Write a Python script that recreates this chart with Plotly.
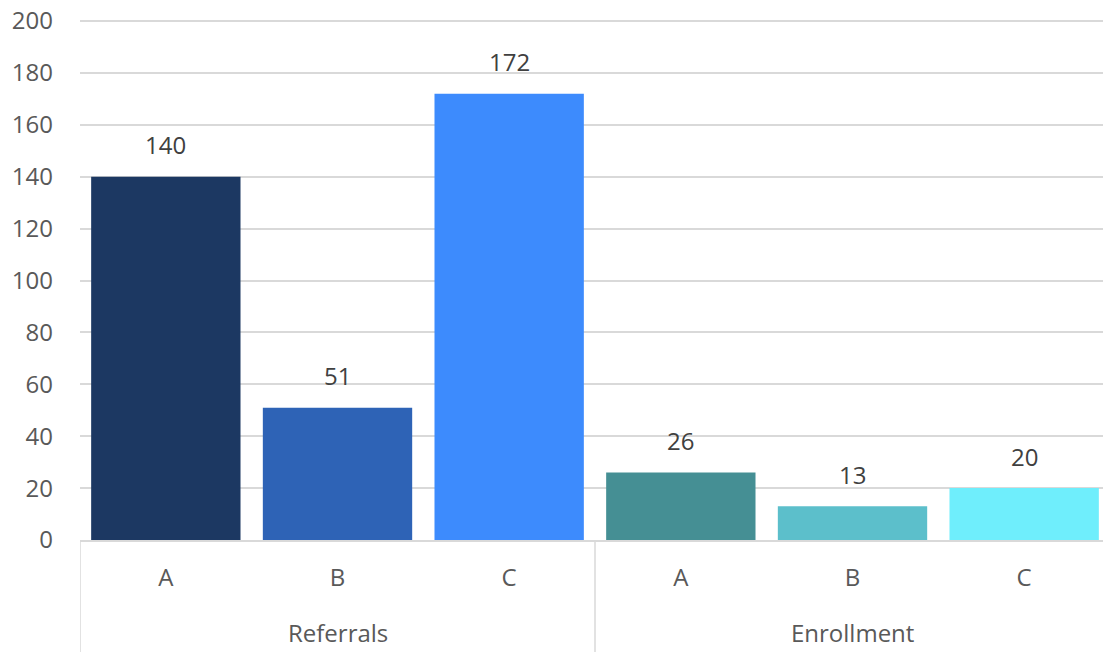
import plotly.graph_objects as go

groups = ["Referrals", "Enrollment"]
categories = ["A", "B", "C", "A", "B", "C"]
values = [140, 51, 172, 26, 13, 20]
colors = ["#1C3862", "#2E63B6", "#3D8BFD", "#458F94", "#5CBFCB", "#6FEEFC"]
y_ticks = list(range(0, 201, 20))

font_family = "Open Sans, Segoe UI, sans-serif"
text_color = "#595959"
line_color = "#D9D9D9"

n = len(categories)
xpos = list(range(n))
per_group = n // len(groups)

fig = go.Figure()
fig.add_trace(go.Bar(
    x=xpos,
    y=values,
    marker=dict(color=colors, line=dict(width=0)),
    hoverinfo="skip",
))

# data labels
for xi, v in zip(xpos, values):
    fig.add_annotation(x=xi, y=v, text=str(v), showarrow=False, yshift=32,
                       yanchor="middle",
                       font=dict(family=font_family, size=24, color="#404040"))

# plot height in px for paper conversions
H_PLOT = 520
bottom_px = 112

# group labels and dividers
for gi, g in enumerate(groups):
    center = gi * per_group + (per_group - 1) / 2
    fig.add_annotation(x=center, y=-92 / H_PLOT, xref="x", yref="paper",
                       text=g, showarrow=False, yanchor="middle",
                       font=dict(family=font_family, size=24, color=text_color))
for b in range(len(groups) + 1):
    xb = b * per_group - 0.5
    fig.add_shape(type="line", xref="x", yref="paper", x0=xb, x1=xb,
                  y0=0, y1=-bottom_px / H_PLOT,
                  line=dict(color=line_color, width=1.5), layer="below")

fig.update_layout(
    width=1103, height=644,
    margin=dict(l=72, r=1, t=12, b=112, autoexpand=False),
    plot_bgcolor="white", paper_bgcolor="white",
    bargap=0.13,
    showlegend=False,
    font=dict(family=font_family, size=24, color=text_color),
)
fig.update_yaxes(
    range=[0, 200.4], tickvals=y_ticks, ticktext=[str(t) for t in y_ticks],
    showgrid=True, gridcolor=line_color, gridwidth=1.5,
    zeroline=False, showline=False, ticks="",
    ticklabelstandoff=26, ticklabeloverflow="allow",
    tickfont=dict(size=24, color=text_color, family=font_family),
    automargin=False,
)
fig.update_xaxes(
    range=[-0.5, n - 0.5],
    tickvals=xpos, ticktext=categories,
    showline=True, linecolor=line_color, linewidth=1.5,
    showgrid=False, zeroline=False, ticks="",
    ticklabelstandoff=15, ticklabeloverflow="allow",
    tickfont=dict(size=24, color=text_color, family=font_family),
    automargin=False,
)
fig.write_html("out.html")
